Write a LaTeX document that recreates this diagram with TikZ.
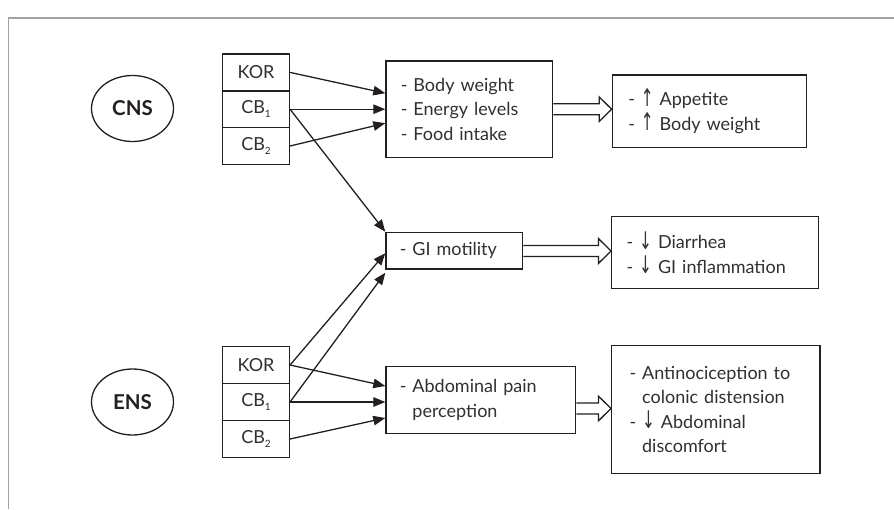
\documentclass[tikz,border=0pt]{standalone}
\usepackage{fontspec}
\setmainfont{Lato}
\newfontfamily\arrowfont{DejaVu Sans}
\usetikzlibrary{arrows.meta,calc,shapes.geometric}
\definecolor{ink}{HTML}{231F20}
\definecolor{txt}{HTML}{303030}
\definecolor{framegray}{HTML}{A3A3A3}
\newcommand\sbs[1]{\raisebox{-4pt}{\fontsize{10}{10}\selectfont #1}}
\newcommand\uarr{\raisebox{-0.5pt}{\scalebox{0.85}[1.35]{\arrowfont\char"2191}}}
\newcommand\darr{\raisebox{-0.5pt}{\scalebox{0.85}[1.35]{\arrowfont\char"2193}}}
\newcommand\dsh{\makebox[12.5pt][l]{-}}
\newcommand\ind{\hspace*{12.5pt}}
\newcommand\hollowarrow[3]{%
  \draw[ink,line width=1.3pt,line join=miter]
    let \p1=(#1), \p2=(#2) in
    (\x1,#3+5.5) -- (\x2-12.5,#3+5.5) -- (\x2-12.5,#3+12.3) -- (\x2,#3)
    -- (\x2-12.5,#3-12.3) -- (\x2-12.5,#3-5.5) -- (\x1,#3-5.5);}
\begin{document}
\begin{tikzpicture}[x=1pt,y=1pt,
  every node/.style={font=\fontsize{18}{24.5}\selectfont, text=txt},
  sys/.style={ellipse,draw=ink,line width=1.3pt,minimum width=82pt,minimum height=66pt,inner sep=0pt,
    font=\fontsize{20.5}{22}\selectfont\bfseries,text=ink},
  rec/.style={rectangle,draw=ink,line width=1.5pt,minimum width=66.6pt,minimum height=36.8pt,inner sep=0pt},
  box/.style={rectangle,draw=ink,line width=1.3pt,inner ysep=0pt,align=left},
  conn/.style={draw=ink,line width=1.3pt,-{Triangle[length=12pt,width=9.5pt]}}
]
\useasboundingbox (0,0) rectangle (894,-509);
\draw[framegray,line width=1.2pt] (8.5,-509) -- (8.5,-18) -- (894,-18);

% systems
\node[sys] (cns) at (132.5,-108.5) {CNS};
\node[sys] (ens) at (132.5,-402) {ENS};

% CNS receptors
\node[rec] (ckor) at (256,-72.4) {KOR};
\node[rec] (ccb1) at (256,-109.2) {CB\sbs{1}};
\node[rec] (ccb2) at (256,-146) {CB\sbs{2}};

% ENS receptors
\node[rec] (ekor) at (256,-365) {KOR};
\node[rec] (ecb1) at (256,-402) {CB\sbs{1}};
\node[rec] (ecb2) at (256,-439) {CB\sbs{2}};

% effect boxes
\node[box,minimum width=166.7pt,minimum height=96.3pt,inner xsep=15pt,text width=136.7pt] (bw) at (469.3,-109.2)
  {\dsh Body weight\\ \dsh Energy levels\\ \dsh Food intake};
\node[box,minimum width=136.7pt,minimum height=36.7pt,inner xsep=14pt,text width=108.7pt] (gi) at (454.3,-250.7)
  {\dsh GI motility};
\node[box,minimum width=189.7pt,minimum height=66.7pt,inner xsep=14pt,text width=161.7pt] (ab) at (480.8,-400)
  {\dsh Abdominal pain\\ \ind perception};

% result boxes
\node[box,minimum width=194.4pt,minimum height=72.3pt,inner xsep=16pt,text width=162.4pt] (r1) at (709.5,-111.2)
  {\dsh\uarr\ Appetite\\ \dsh\uarr\ Body weight};
\node[box,minimum width=207pt,minimum height=72pt,inner xsep=15pt,text width=177pt] (r2) at (715.2,-252.7)
  {\dsh\darr\ Diarrhea\\ \dsh\darr\ GI inflammation};
\node[box,minimum width=208.3pt,minimum height=127.6pt,inner xsep=18pt,text width=172.3pt] (r3) at (715.8,-409.5)
  {\dsh Antinociception to\\ \ind colonic distension\\ \dsh\darr\ Abdominal\\ \ind discomfort};

% CNS connectors
\draw[conn] (ckor.east) -- ($(bw.west)+(0,16)$);
\draw[conn] (ccb1.east) -- (bw.west |- ccb1.east);
\draw[conn] (ccb2.east) -- ($(bw.west)+(0,-14)$);
\draw[conn] (ccb1.east) -- (gi.north west);

% ENS connectors
\draw[conn] (ekor.east) -- ($(gi.west)+(0,-2.5)$);
\draw[conn] (ecb1.east) -- ($(gi.south west)+(0,-3)$);
\draw[conn] (ekor.east) -- ($(ab.west)+(0,14)$);
\draw[conn] (ecb1.east) -- (ab.west |- ecb1.east);
\draw[conn] (ecb2.east) -- ($(ab.west)+(0,-18)$);

% hollow arrows
\hollowarrow{bw.east}{r1.west}{-109.2}
\hollowarrow{gi.east}{r2.west}{-251}
\hollowarrow{ab.east}{r3.west}{-408.5}
\end{tikzpicture}
\end{document}
